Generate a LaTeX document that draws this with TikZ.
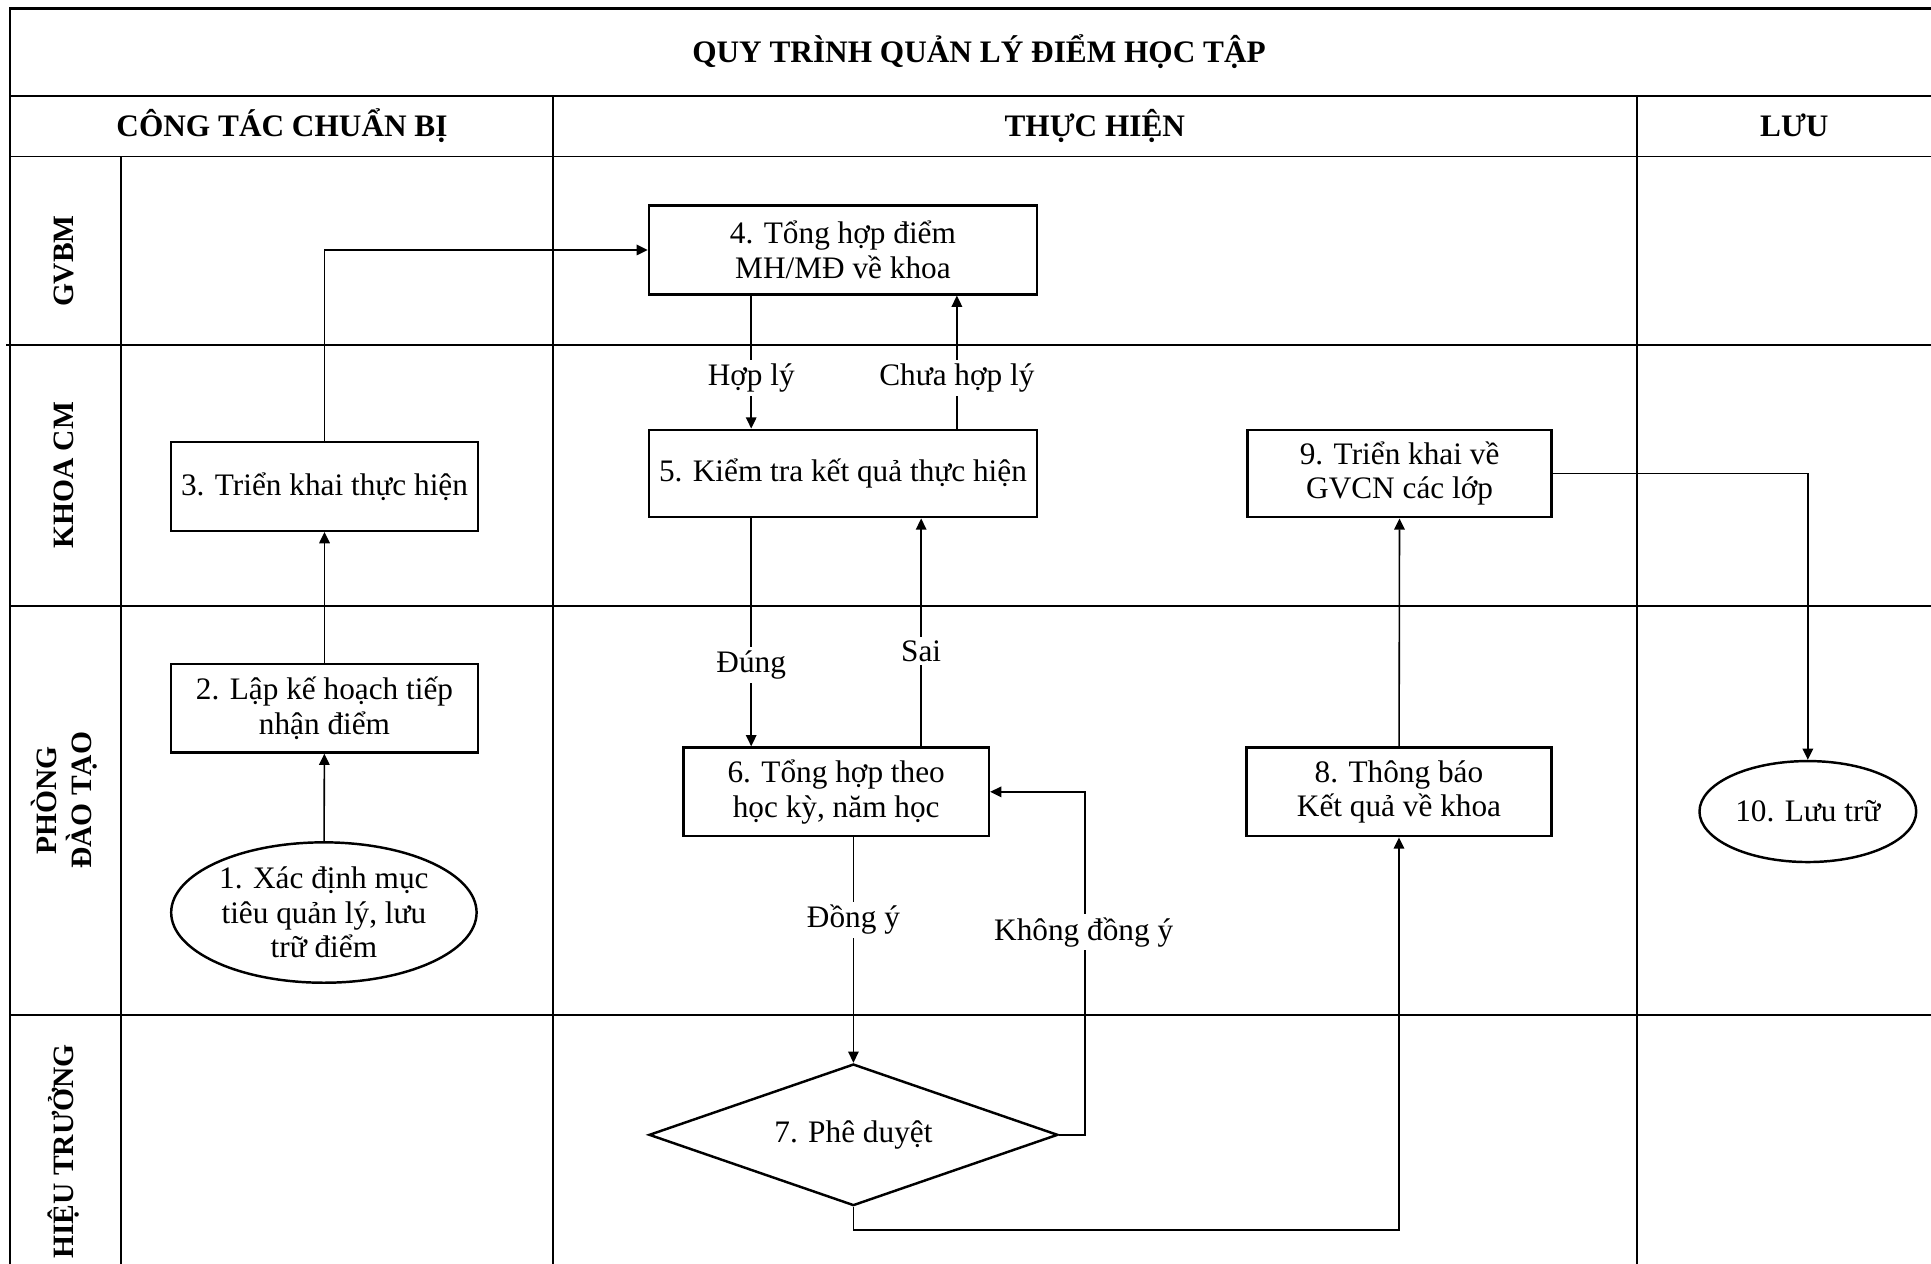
\documentclass[tikz,border=0pt]{standalone}
\usepackage{fontspec}
\setmainfont{Liberation Serif}
\usetikzlibrary{arrows.meta,shapes.geometric}
\begin{document}
\begin{tikzpicture}[x=0.012315cm,y=-0.012315cm,
  tline/.style={line width=0.5pt},
  frame/.style={line width=0.75pt},
  txt/.style={font=\fontsize{8.9}{9.8}\selectfont,align=center},
  ttl/.style={font=\fontsize{8.9}{9.8}\selectfont\bfseries,align=center,inner sep=0pt},
  lane/.style={font=\fontsize{8.4}{9.8}\selectfont\bfseries,align=center,rotate=90,inner sep=0pt},
  box/.style={txt,draw,line width=0.7pt,inner sep=0pt},
  oval/.style={txt,draw,ellipse,line width=0.7pt,inner sep=0pt},
  dia/.style={txt,draw,diamond,line width=0.7pt,inner sep=0pt,aspect=2.9},
  arr/.style={line width=0.45pt,-{Triangle[length=3.2pt,width=3pt]}},
  lbl/.style={txt,fill=white,inner sep=1pt}]
\useasboundingbox (0,0) rectangle (1568,1026);
% table grid
\draw[frame] (8,1026) -- (8,7) -- (1568,7);
\draw[tline] (8,78) -- (1568,78);
\draw[tline] (8,127) -- (1568,127);
\draw[tline] (5,280) -- (1568,280);
\draw[tline] (8,492) -- (1568,492);
\draw[tline] (8,824) -- (1568,824);
\draw[tline] (98,127) -- (98,1026);
\draw[tline] (449,78) -- (449,1026);
\draw[tline] (1329,78) -- (1329,1026);
% headers
\node[ttl] (title) at (795,42) {QUY TRÌNH QUẢN LÝ ĐIỂM HỌC TẬP};
\node[ttl] (h1) at (229,102) {CÔNG TÁC CHUẨN BỊ};
\node[ttl] (h2) at (889,102) {THỰC HIỆN};
\node[ttl] (h3) at (1457,102) {LƯU};
\node[lane] (l1) at (52,212) {GVBM};
\node[lane] (l2) at (52,386) {KHOA CM};
\node[lane] (l3) at (52,650) {PHÒNG\\ĐÀO TẠO};
\node[lane] (l4) at (52,935) {HIỆU TRƯỞNG};
% nodes
\node[oval,minimum width={248*0.012315cm},minimum height={114*0.012315cm}] (n1) at (263,741) {1. Xác định mục\\tiêu quản lý, lưu\\trữ điểm};
\node[box,minimum width={249*0.012315cm},minimum height={72*0.012315cm}] (n2) at (263.5,575) {2. Lập kế hoạch tiếp\\nhận điểm};
\node[box,minimum width={249*0.012315cm},minimum height={72*0.012315cm}] (n3) at (263.5,395) {3. Triển khai thực hiện};
\node[box,minimum width={315*0.012315cm},minimum height={72*0.012315cm}] (n4) at (684.5,203) {4. Tổng hợp điểm\\MH/MĐ về khoa};
\node[box,minimum width={315*0.012315cm},minimum height={71*0.012315cm}] (n5) at (684.5,384.5) {5. Kiểm tra kết quả thực hiện};
\node[box,minimum width={248*0.012315cm},minimum height={72*0.012315cm}] (n6) at (679,643) {6. Tổng hợp theo\\học kỳ, năm học};
\node[dia,minimum width={332*0.012315cm},minimum height={115*0.012315cm}] (n7) at (693,921.5) {7. Phê duyệt};
\node[box,minimum width={248*0.012315cm},minimum height={72*0.012315cm}] (n8) at (1136,643) {8. Thông báo\\Kết quả về khoa};
\node[box,minimum width={247*0.012315cm},minimum height={71*0.012315cm}] (n9) at (1136.5,384.5) {9. Triển khai về\\GVCN các lớp};
\node[oval,minimum width={176*0.012315cm},minimum height={82*0.012315cm}] (n10) at (1468,659) {10. Lưu trữ};
% connectors
\draw[arr] (n1) -- (n2);
\draw[arr] (n2) -- (n3);
\draw[arr] (n3.north) |- (n4.west);
\draw[arr] ([xshift=-0.9175cm]n4.south) -- ([xshift=-0.9175cm]n4.south |- n5.north);
\draw[arr] ([xshift=1.139cm]n5.north) -- ([xshift=1.139cm]n5.north |- n4.south);
\draw[arr] ([xshift=-0.9175cm]n5.south) -- ([xshift=-0.9175cm]n5.south |- n6.north);
\draw[arr] ([xshift=0.782cm]n5.south |- n6.north) -- ([xshift=0.782cm]n5.south);
\draw[arr] (n6.south -| n7.north) -- (n7.north);
\draw[arr] (n7.east) -- ++(21,0) coordinate (k1) |- (n6.east);
\draw[arr] (n7.south) -- ++(0,19) coordinate (k2) -| (n8.south);
\draw[arr] (n8) -- (n9);
\draw[arr] (n9.east) -| (n10.north);
% connector labels
\node[lbl] (t1) at (610,307) {Hợp lý};
\node[lbl] (t2) at (777,307) {Chưa hợp lý};
\node[lbl] (t3) at (610,540) {Đúng};
\node[lbl] (t4) at (748,529) {Sai};
\node[lbl] (t5) at (693,747) {Đồng ý};
\node[lbl] (t6) at (880,757) {Không đồng ý};
\end{tikzpicture}
\end{document}
